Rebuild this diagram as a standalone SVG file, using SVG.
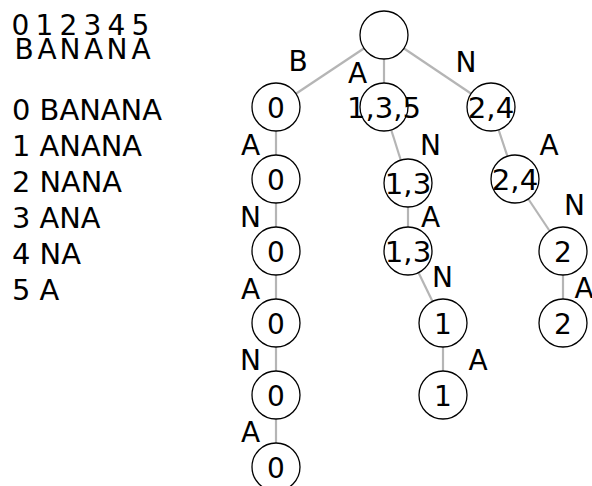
<svg xmlns="http://www.w3.org/2000/svg" width="592" height="486" viewBox="0 0 592 486">
<style>
text{font-family:"DejaVu Sans","Liberation Sans",sans-serif;font-size:28px;fill:#000}
.lbl{text-anchor:middle}
.n circle{fill:#fff;stroke:#000;stroke-width:1.3}
.n text{text-anchor:middle}
#edges line{stroke:#b5b5b5;stroke-width:2.2}
</style>
<rect width="592" height="486" fill="#fff"/>
<g id="legend">
<text x="20.5 44.5 68.5 92.5 116.5 140.5" y="35" text-anchor="middle">012345</text>
<text x="24 47 70 93.5 117 141" y="59" text-anchor="middle">BANANA</text>
<text x="12" y="119.5" textLength="150" lengthAdjust="spacingAndGlyphs">0 BANANA</text>
<text x="12" y="155.5" textLength="130" lengthAdjust="spacingAndGlyphs">1 ANANA</text>
<text x="12" y="191.5" textLength="110" lengthAdjust="spacingAndGlyphs">2 NANA</text>
<text x="12" y="227.5" textLength="88.5" lengthAdjust="spacingAndGlyphs">3 ANA</text>
<text x="12" y="263.5" textLength="69" lengthAdjust="spacingAndGlyphs">4 NA</text>
<text x="12" y="299.5" textLength="47.3" lengthAdjust="spacingAndGlyphs">5 A</text>
</g>
<g id="edges">
<line x1="384" y1="35" x2="276" y2="107"/>
<line x1="384" y1="35" x2="384" y2="107"/>
<line x1="384" y1="35" x2="491" y2="107"/>
<line x1="276" y1="107" x2="276" y2="467"/>
<line x1="384" y1="107" x2="408" y2="183"/>
<line x1="408" y1="183" x2="408" y2="251"/>
<line x1="408" y1="251" x2="443" y2="323"/>
<line x1="443" y1="323" x2="443" y2="395"/>
<line x1="491" y1="107" x2="515" y2="179"/>
<line x1="515" y1="179" x2="563" y2="251"/>
<line x1="563" y1="251" x2="563" y2="323"/>
</g>
<g id="edge-labels">
<text class="lbl" x="298" y="71">B</text>
<text class="lbl" x="357.5" y="83">A</text>
<text class="lbl" x="466" y="71.5">N</text>
<text class="lbl" x="250.5" y="155">A</text>
<text class="lbl" x="250.5" y="227">N</text>
<text class="lbl" x="250.5" y="299">A</text>
<text class="lbl" x="250.5" y="370">N</text>
<text class="lbl" x="250.5" y="442">A</text>
<text class="lbl" x="430.5" y="155">N</text>
<text class="lbl" x="430.5" y="227">A</text>
<text class="lbl" x="442.5" y="287">N</text>
<text class="lbl" x="478" y="370">A</text>
<text class="lbl" x="549" y="155">A</text>
<text class="lbl" x="574.5" y="215">N</text>
<text class="lbl" x="584" y="298">A</text>
</g>
<g id="root" class="n"><circle cx="384" cy="35" r="24"/></g>
<g id="n0a" class="n"><circle cx="276" cy="107" r="24"/><text x="276" y="117.5">0</text></g>
<g id="n0b" class="n"><circle cx="276" cy="179" r="24"/><text x="276" y="189.5">0</text></g>
<g id="n0c" class="n"><circle cx="276" cy="251" r="24"/><text x="276" y="261.5">0</text></g>
<g id="n0d" class="n"><circle cx="276" cy="323" r="24"/><text x="276" y="333.5">0</text></g>
<g id="n0e" class="n"><circle cx="276" cy="395" r="24"/><text x="276" y="405.5">0</text></g>
<g id="n0f" class="n"><circle cx="276" cy="467" r="24"/><text x="276" y="477.5">0</text></g>
<g id="n135" class="n"><circle cx="384" cy="107" r="24"/><text x="384" y="117.5" textLength="74" lengthAdjust="spacingAndGlyphs">1,3,5</text></g>
<g id="n13a" class="n"><circle cx="408" cy="183" r="24"/><text x="408" y="193.5" textLength="46.5" lengthAdjust="spacingAndGlyphs">1,3</text></g>
<g id="n13b" class="n"><circle cx="408" cy="251" r="24"/><text x="408" y="261.5" textLength="46.5" lengthAdjust="spacingAndGlyphs">1,3</text></g>
<g id="n1a" class="n"><circle cx="443" cy="323" r="24"/><text x="443" y="333.5">1</text></g>
<g id="n1b" class="n"><circle cx="443" cy="395" r="24"/><text x="443" y="405.5">1</text></g>
<g id="n24a" class="n"><circle cx="491" cy="107" r="24"/><text x="491" y="117.5" textLength="46.5" lengthAdjust="spacingAndGlyphs">2,4</text></g>
<g id="n24b" class="n"><circle cx="515" cy="179" r="24"/><text x="515" y="189.5" textLength="46.5" lengthAdjust="spacingAndGlyphs">2,4</text></g>
<g id="n2a" class="n"><circle cx="563" cy="251" r="24"/><text x="563" y="261.5">2</text></g>
<g id="n2b" class="n"><circle cx="563" cy="323" r="24"/><text x="563" y="333.5">2</text></g>
</svg>
